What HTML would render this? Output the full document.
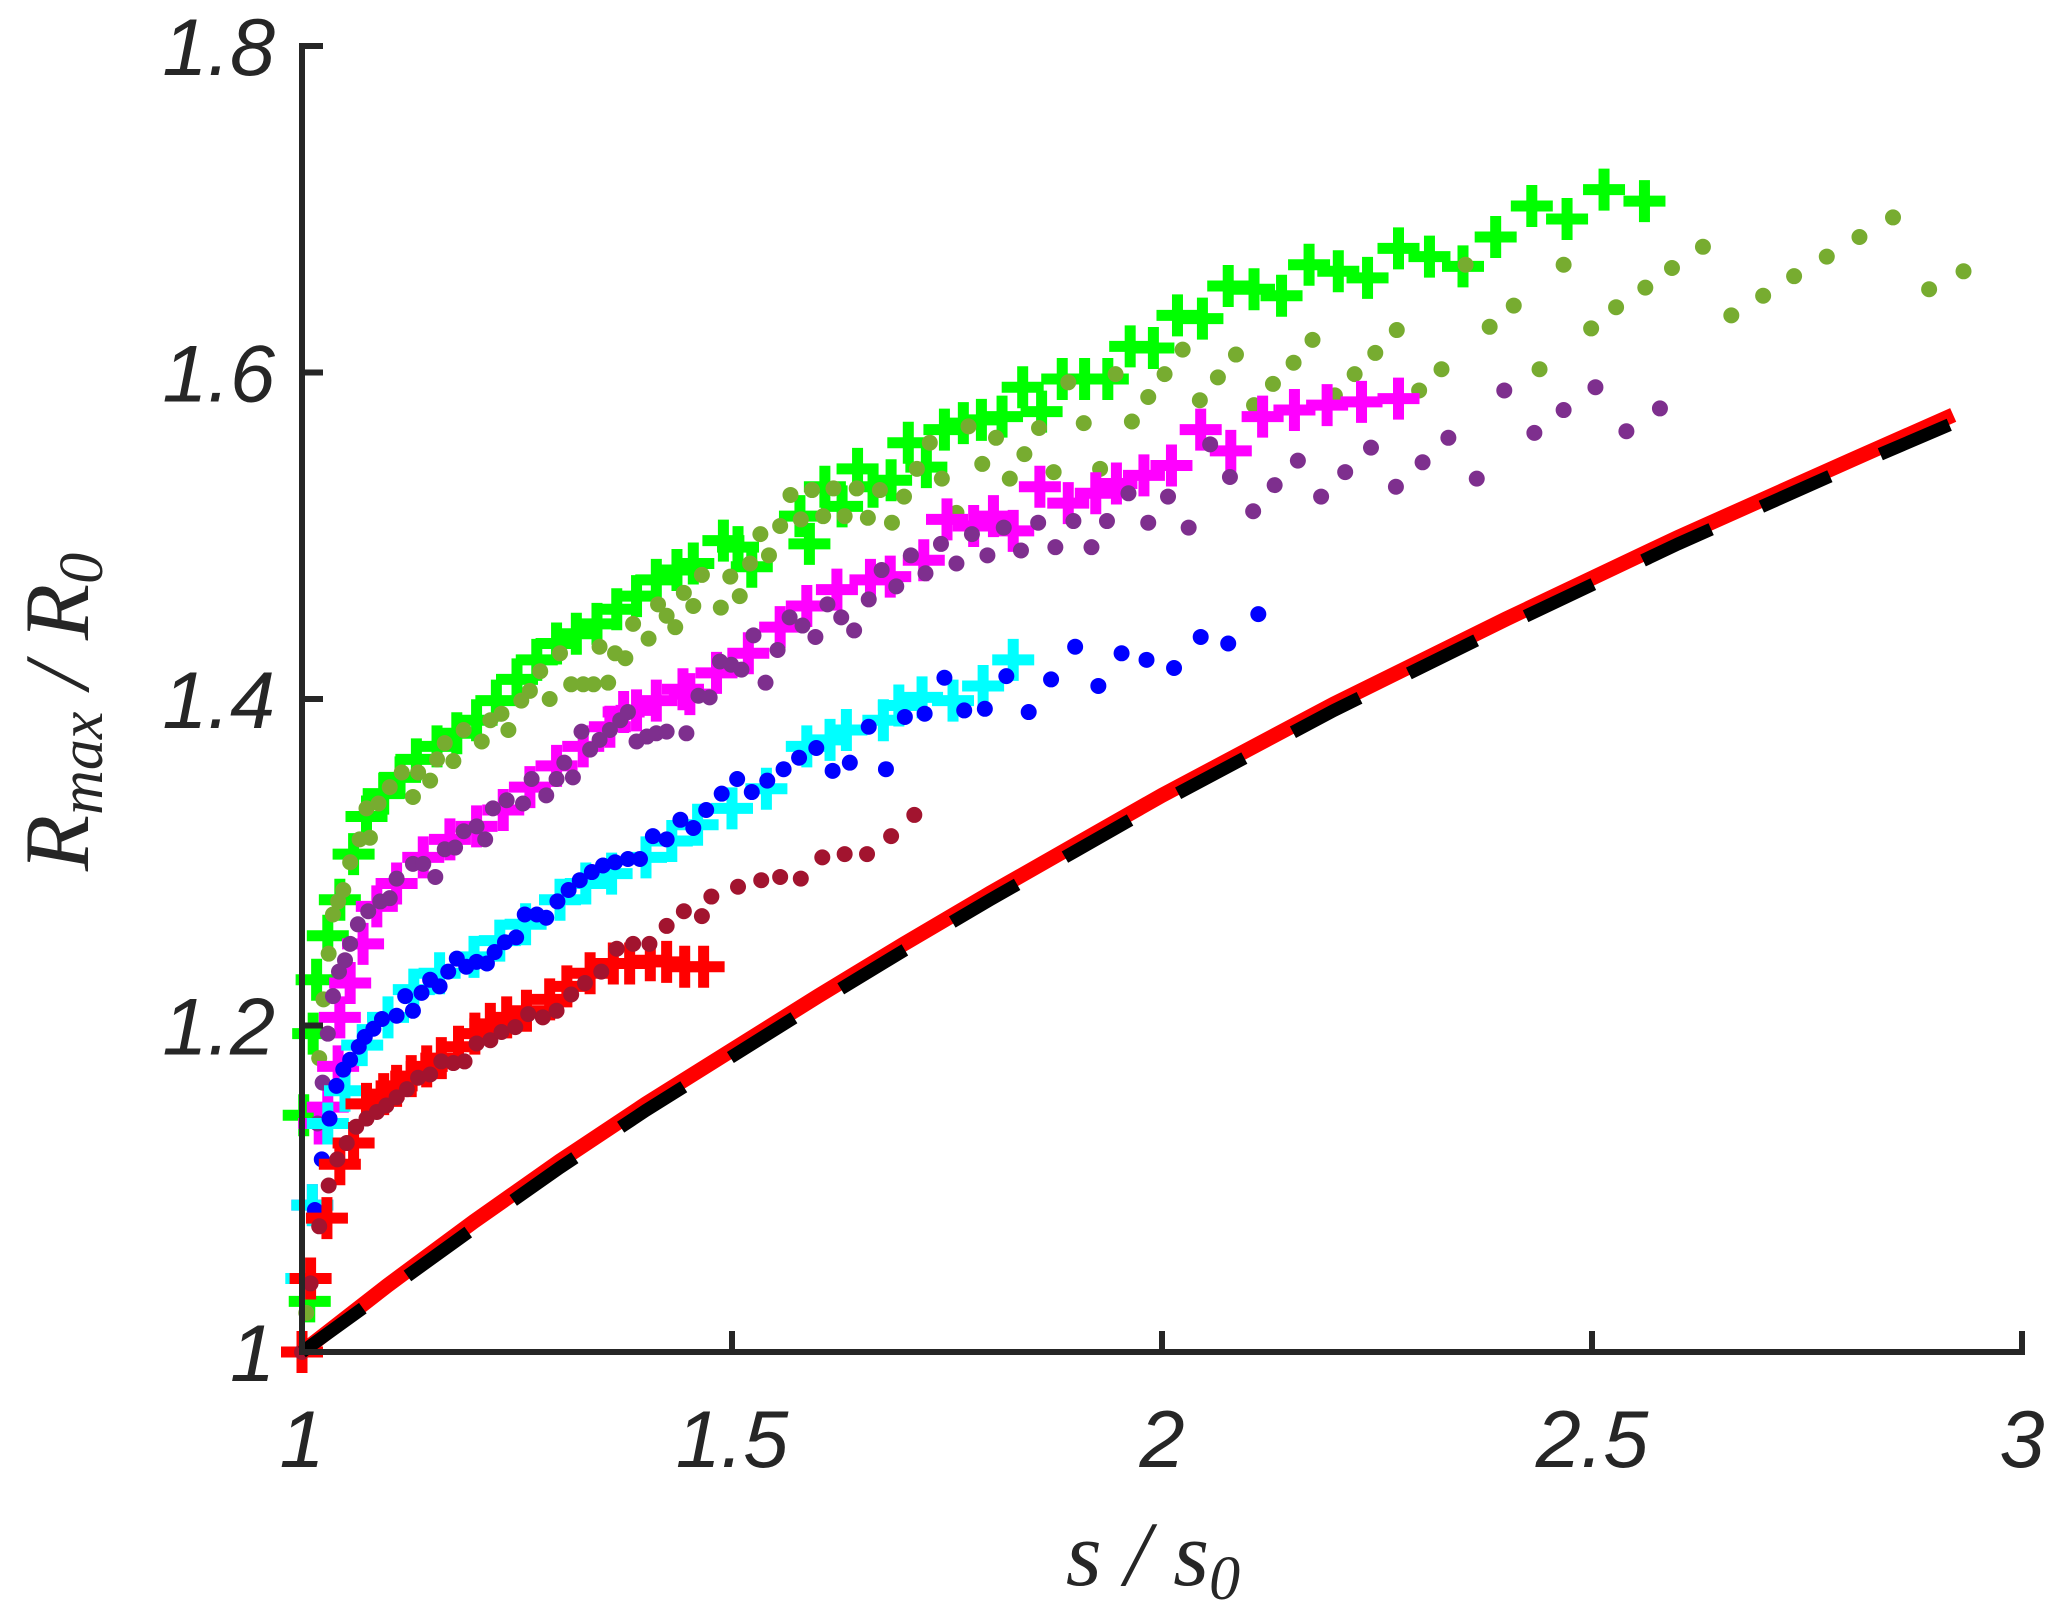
<!DOCTYPE html>
<html><head><meta charset="utf-8">
<style>
html,body{margin:0;padding:0;background:#fff;}
svg{display:block;}
.tick{font-family:"Liberation Sans",sans-serif;font-style:italic;font-size:81px;fill:#262626;}
.lab{font-family:"Liberation Serif",serif;font-style:italic;font-size:92px;fill:#262626;}
</style></head>
<body>
<svg id="chart" width="2067" height="1620" viewBox="0 0 2067 1620" xmlns="http://www.w3.org/2000/svg">
<g id="marks"></g>
<g id="axes"></g>
<text class="lab" x="1153" y="1585" text-anchor="middle">s / s<tspan font-size="62" dy="14">0</tspan></text>
<text class="lab" transform="translate(88,712) rotate(-90)" text-anchor="middle">R<tspan font-size="62" dy="14">max</tspan><tspan dy="-14"> / R</tspan><tspan font-size="62" dy="14">0</tspan></text>
</svg>
<script>
const xTicks=[1,1.5,2,2.5,3];
const xTickLabels=["1","1.5","2","2.5","3"];
const yTicks=[1,1.2,1.4,1.6,1.8];
const yTickLabels=["1","1.2","1.4","1.6","1.8"];

const greenX=[1.009,1.002,1.013,1.017,1.03,1.044,1.06,1.075,1.095,1.114,1.133,1.157,1.18,1.203,1.226,1.25,1.273,1.296,1.319,1.343,1.366,1.389,1.412,1.436,1.455,1.49,1.507,1.523,1.579,1.59,1.608,1.628,1.646,1.664,1.685,1.705,1.726,1.747,1.769,1.79,1.814,1.838,1.86,1.884,1.91,1.937,1.963,1.99,2.018,2.047,2.077,2.107,2.139,2.171,2.205,2.239,2.275,2.311,2.35,2.388,2.43,2.471,2.514,2.561];
const greenY=[1.031,1.145,1.195,1.228,1.255,1.277,1.305,1.328,1.342,1.352,1.363,1.371,1.379,1.387,1.399,1.412,1.424,1.434,1.44,1.446,1.455,1.463,1.473,1.479,1.483,1.497,1.493,1.481,1.512,1.495,1.53,1.518,1.541,1.53,1.534,1.557,1.542,1.565,1.569,1.571,1.573,1.591,1.576,1.596,1.596,1.596,1.616,1.615,1.635,1.633,1.653,1.651,1.647,1.666,1.662,1.658,1.676,1.671,1.665,1.683,1.702,1.694,1.712,1.705];

const oliveX=[1.005,1.02,1.025,1.031,1.036,1.042,1.048,1.056,1.067,1.079,1.075,1.089,1.102,1.116,1.129,1.135,1.149,1.157,1.166,1.176,1.188,1.209,1.219,1.232,1.24,1.255,1.265,1.277,1.288,1.3,1.313,1.327,1.339,1.356,1.346,1.364,1.376,1.385,1.403,1.414,1.424,1.434,1.444,1.455,1.465,1.487,1.498,1.509,1.521,1.533,1.543,1.556,1.568,1.58,1.593,1.606,1.618,1.631,1.645,1.658,1.672,1.686,1.7,1.715,1.73,1.744,1.761,1.775,1.791,1.807,1.823,1.84,1.857,1.874,1.891,1.909,1.928,1.946,1.965,1.984,2.003,2.024,2.044,2.065,2.086,2.107,2.129,2.153,2.175,2.201,2.224,2.248,2.273,2.299,2.325,2.353,2.381,2.409,2.439,2.467,2.499,2.528,2.562,2.593,2.629,2.662,2.699,2.735,2.773,2.811,2.85,2.892,2.932];
const oliveY=[1.024,1.18,1.216,1.244,1.268,1.276,1.283,1.3,1.314,1.315,1.333,1.336,1.346,1.355,1.34,1.355,1.35,1.363,1.373,1.362,1.381,1.374,1.387,1.391,1.381,1.399,1.405,1.417,1.4,1.428,1.409,1.409,1.409,1.41,1.432,1.428,1.425,1.446,1.437,1.458,1.451,1.444,1.465,1.457,1.476,1.456,1.475,1.463,1.483,1.501,1.488,1.506,1.525,1.51,1.528,1.512,1.529,1.512,1.529,1.511,1.528,1.508,1.524,1.541,1.557,1.535,1.514,1.567,1.544,1.56,1.535,1.55,1.566,1.539,1.594,1.569,1.541,1.599,1.57,1.585,1.599,1.614,1.583,1.597,1.611,1.58,1.593,1.606,1.62,1.586,1.599,1.612,1.626,1.589,1.602,1.666,1.628,1.641,1.602,1.666,1.627,1.64,1.652,1.664,1.677,1.635,1.647,1.659,1.671,1.683,1.695,1.651,1.662];

const magentaX=[1.006,1.012,1.02,1.03,1.042,1.044,1.056,1.071,1.087,1.11,1.141,1.172,1.203,1.234,1.265,1.296,1.327,1.358,1.374,1.389,1.412,1.443,1.451,1.482,1.519,1.556,1.587,1.622,1.661,1.684,1.723,1.75,1.781,1.804,1.827,1.858,1.891,1.923,1.947,1.979,2.011,2.045,2.08,2.117,2.154,2.192,2.232,2.275];
const magentaY=[1.045,1.09,1.14,1.15,1.175,1.205,1.226,1.25,1.273,1.287,1.303,1.314,1.322,1.332,1.346,1.359,1.371,1.383,1.392,1.393,1.399,1.406,1.403,1.416,1.428,1.444,1.457,1.467,1.473,1.475,1.485,1.51,1.506,1.512,1.503,1.53,1.52,1.526,1.532,1.537,1.543,1.565,1.552,1.573,1.577,1.58,1.582,1.584];

const purpleX=[1.018,1.024,1.03,1.036,1.043,1.05,1.056,1.065,1.077,1.091,1.102,1.11,1.129,1.141,1.155,1.166,1.178,1.188,1.203,1.213,1.222,1.238,1.257,1.267,1.284,1.296,1.305,1.315,1.325,1.335,1.346,1.358,1.37,1.379,1.389,1.401,1.412,1.424,1.447,1.461,1.474,1.486,1.499,1.511,1.525,1.539,1.553,1.567,1.582,1.597,1.611,1.627,1.642,1.659,1.674,1.691,1.708,1.725,1.743,1.761,1.779,1.797,1.816,1.836,1.856,1.876,1.897,1.918,1.936,1.961,1.984,2.007,2.031,2.056,2.079,2.106,2.131,2.158,2.185,2.213,2.243,2.272,2.303,2.333,2.366,2.398,2.433,2.467,2.504,2.54,2.579];
const purpleY=[1.14,1.165,1.195,1.218,1.233,1.24,1.25,1.262,1.27,1.276,1.278,1.29,1.299,1.299,1.291,1.308,1.309,1.319,1.322,1.314,1.333,1.338,1.336,1.351,1.341,1.351,1.361,1.352,1.38,1.369,1.375,1.381,1.387,1.392,1.374,1.377,1.379,1.38,1.379,1.402,1.401,1.423,1.421,1.418,1.439,1.41,1.43,1.45,1.445,1.438,1.458,1.45,1.442,1.461,1.479,1.469,1.488,1.477,1.495,1.483,1.501,1.488,1.505,1.491,1.508,1.493,1.509,1.493,1.509,1.526,1.508,1.524,1.505,1.556,1.536,1.515,1.531,1.546,1.524,1.539,1.554,1.53,1.545,1.56,1.535,1.589,1.563,1.577,1.591,1.564,1.578];

const cyanX=[1.005,1.012,1.03,1.05,1.07,1.1,1.13,1.16,1.2,1.23,1.26,1.3,1.33,1.36,1.4,1.43,1.46,1.5,1.54,1.587,1.614,1.633,1.676,1.694,1.721,1.757,1.792,1.827];
const cyanY=[1.045,1.09,1.14,1.16,1.188,1.205,1.222,1.232,1.242,1.252,1.262,1.277,1.287,1.293,1.303,1.313,1.323,1.333,1.345,1.371,1.375,1.381,1.387,1.396,1.401,1.399,1.408,1.424];

const blueX=[1.015,1.023,1.032,1.04,1.048,1.056,1.066,1.073,1.083,1.093,1.11,1.12,1.129,1.139,1.149,1.16,1.17,1.18,1.191,1.203,1.215,1.224,1.236,1.249,1.259,1.273,1.284,1.297,1.31,1.323,1.337,1.35,1.364,1.379,1.393,1.408,1.424,1.44,1.455,1.47,1.488,1.506,1.523,1.541,1.56,1.578,1.598,1.617,1.637,1.659,1.679,1.701,1.724,1.747,1.77,1.794,1.819,1.845,1.871,1.899,1.926,1.953,1.982,2.014,2.045,2.077,2.112];
const blueY=[1.087,1.118,1.143,1.163,1.173,1.179,1.187,1.193,1.198,1.204,1.206,1.218,1.209,1.22,1.228,1.224,1.233,1.241,1.236,1.239,1.238,1.245,1.251,1.254,1.268,1.268,1.266,1.276,1.283,1.289,1.294,1.298,1.3,1.302,1.302,1.316,1.314,1.326,1.321,1.332,1.342,1.351,1.343,1.35,1.357,1.364,1.37,1.356,1.361,1.383,1.357,1.389,1.391,1.413,1.393,1.394,1.414,1.392,1.412,1.432,1.408,1.428,1.424,1.419,1.438,1.434,1.452];

const redX=[1.0,1.01,1.029,1.044,1.06,1.075,1.095,1.11,1.127,1.145,1.162,1.182,1.201,1.219,1.238,1.261,1.288,1.308,1.335,1.362,1.381,1.405,1.424,1.445,1.467];
const redY=[1.0,1.045,1.082,1.115,1.128,1.152,1.158,1.163,1.169,1.175,1.18,1.187,1.195,1.201,1.205,1.209,1.216,1.224,1.232,1.238,1.238,1.24,1.239,1.236,1.236];

const darkredX=[1.0,1.01,1.02,1.031,1.041,1.052,1.063,1.075,1.087,1.098,1.11,1.122,1.135,1.149,1.162,1.176,1.189,1.203,1.219,1.232,1.248,1.263,1.28,1.296,1.313,1.329,1.348,1.366,1.385,1.404,1.424,1.444,1.465,1.476,1.507,1.534,1.556,1.58,1.605,1.631,1.657,1.685,1.712];
const darkredY=[1.0,1.042,1.077,1.102,1.118,1.128,1.138,1.143,1.147,1.151,1.156,1.161,1.168,1.17,1.178,1.177,1.178,1.189,1.191,1.196,1.199,1.207,1.205,1.209,1.219,1.226,1.233,1.247,1.25,1.25,1.261,1.27,1.267,1.279,1.285,1.289,1.291,1.29,1.303,1.305,1.305,1.316,1.329];

const modelX=[1,1.1,1.2,1.3,1.4,1.5,1.6,1.7,1.8,1.9,2.0,2.2,2.4,2.6,2.8,2.92];
const modelRedY=[1,1.041,1.08,1.117,1.152,1.185,1.218,1.25,1.281,1.311,1.341,1.397,1.449,1.499,1.546,1.574];
const modelBlackY=[1,1.038,1.076,1.113,1.148,1.181,1.214,1.246,1.277,1.307,1.337,1.393,1.445,1.495,1.542,1.569];

const X0=302,XS=860,Y0=1352,YS=1632.5;
function sx(v){return X0+(v-1)*XS;}
function sy(v){return Y0-(v-1)*YS;}
const NS="http://www.w3.org/2000/svg";
const marks=document.getElementById('marks');
const axes=document.getElementById('axes');

function plusSeries(xs,ys,color,name){
  const g=document.createElementNS(NS,'g');
  
  
  for(let i=0;i<xs.length;i++){
    const cx=sx(xs[i]),cy=sy(ys[i]);
    const p=document.createElementNS(NS,'path');
    p.setAttribute('d',`M${cx-21},${cy}H${cx+21}M${cx},${cy-21}V${cy+21}`);
    p.setAttribute('stroke',color);p.setAttribute('stroke-width','11');p.setAttribute('fill','none');
    
    
    g.appendChild(p);
  }
  marks.appendChild(g);
}
function dotSeries(xs,ys,color,name){
  const g=document.createElementNS(NS,'g');
  
  
  for(let i=0;i<xs.length;i++){
    const c=document.createElementNS(NS,'circle');
    c.setAttribute('cx',sx(xs[i]));c.setAttribute('cy',sy(ys[i]));c.setAttribute('r','8');
    c.setAttribute('fill',color);
    
    
    g.appendChild(c);
  }
  marks.appendChild(g);
}
function line(xs,ys,color,w,dash,name){
  const p=document.createElementNS(NS,'polyline');
  p.setAttribute('points',xs.map((v,i)=>sx(v)+','+sy(ys[i])).join(' '));
  p.setAttribute('fill','none');p.setAttribute('stroke',color);p.setAttribute('stroke-width',w);
  if(dash)p.setAttribute('stroke-dasharray',dash);
  
  
  marks.appendChild(p);
}
plusSeries(greenX,greenY,'#00ff00','series-green-plus');
dotSeries(oliveX,oliveY,'#77ac30','series-olive-dots');
plusSeries(magentaX,magentaY,'#ff00ff','series-magenta-plus');
dotSeries(purpleX,purpleY,'#7e2f8e','series-purple-dots');
plusSeries(cyanX,cyanY,'#00ffff','series-cyan-plus');
dotSeries(blueX,blueY,'#0000ff','series-blue-dots');
plusSeries(redX,redY,'#ff0000','series-red-plus');
dotSeries(darkredX,darkredY,'#a2142f','series-darkred-dots');
line(modelX,modelRedY,'#ff0000',15,null,'model-red-line');
line(modelX,modelBlackY,'#000000',13,'75 55','model-black-dashed-line');

function el(tag,attrs,name){const e=document.createElementNS(NS,tag);for(const k in attrs)e.setAttribute(k,attrs[k]);
  
  
  axes.appendChild(e);return e;}
el('line',{x1:X0,y1:Y0,x2:sx(3)+3,y2:Y0,stroke:'#262626','stroke-width':6},'x-axis-line');
el('line',{x1:X0,y1:Y0+3,x2:X0,y2:sy(1.8)-3,stroke:'#262626','stroke-width':6},'y-axis-line');
xTicks.forEach((v,i)=>{
  el('line',{x1:sx(v),y1:Y0,x2:sx(v),y2:Y0-21,stroke:'#262626','stroke-width':6},'x-tick');
  const t=el('text',{x:sx(v),y:1467,'text-anchor':'middle',class:'tick'},'x-tick-label');
  t.textContent=xTickLabels[i];
});
yTicks.forEach((v,i)=>{
  el('line',{x1:X0,y1:sy(v),x2:X0+21,y2:sy(v),stroke:'#262626','stroke-width':6},'y-tick');
  const t=el('text',{x:275,y:sy(v)+29,'text-anchor':'end',class:'tick'},'y-tick-label');
  t.textContent=yTickLabels[i];
});
</script>
</body></html>
